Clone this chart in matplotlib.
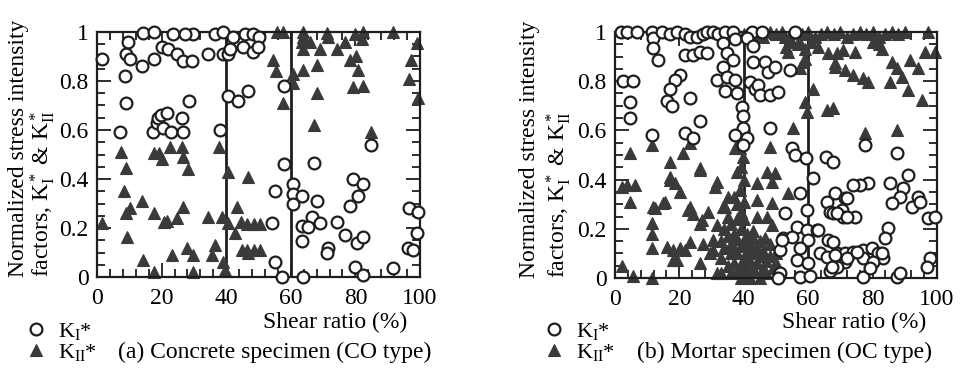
import matplotlib
matplotlib.use("Agg")
import matplotlib.pyplot as plt
from matplotlib import ticker

plt.rcParams['font.family'] = 'Liberation Serif'
plt.rcParams['mathtext.fontset'] = 'custom'
plt.rcParams['mathtext.rm'] = 'Liberation Serif'
plt.rcParams['mathtext.it'] = 'Liberation Serif:italic'

# ---- (a) concrete specimen, shear ratio (%) vs normalized SIF ----
a_k1_x = [1.5, 7, 9, 8.7, 9, 9.6, 10.2, 13.9, 14.3, 17.6, 17.6, 20, 22, 23.4, 24.7, 26.5, 29.3, 29.8,
          27.2, 34.5, 36.5, 39, 39, 40.6, 41.2, 42, 17.4, 18.5, 19, 19.8, 21.6, 20.5, 22.8, 26.3, 26.5,
          28.5, 38, 40.6, 43.7, 46.9, 45.8, 48.3, 50.2, 45.2, 48.3, 49.8, 57.9, 57.9, 67.2, 84.8, 55.1,
          60.7, 79.3, 82.4, 80.8, 60.7, 63.5, 60.7, 68, 78.3, 54.2, 66.6, 63.5, 65.3, 69, 74.3, 76.8,
          63.5, 71.5, 71.2, 80.5, 82.4, 96.6, 99.4, 99, 96.3, 97.8, 55.1, 80, 82.4, 91.6, 57.3, 63.8]
a_k1_y = [0.89, 0.59, 0.71, 0.82, 0.91, 0.96, 0.89, 0.86, 0.995, 1.0, 0.89, 0.94, 0.93, 0.99, 0.91, 0.88, 0.88, 0.99,
          0.99, 0.91, 0.99, 1.0, 0.91, 0.91, 0.93, 0.98, 0.59, 0.63, 0.65, 0.66, 0.67, 0.61, 0.59, 0.65, 0.59,
          0.72, 0.60, 0.74, 0.72, 0.76, 0.99, 0.99, 0.98, 0.94, 0.92, 0.94, 0.78, 0.46, 0.465, 0.54, 0.35,
          0.38, 0.40, 0.38, 0.33, 0.34, 0.33, 0.30, 0.31, 0.29, 0.22, 0.245, 0.21, 0.205, 0.22, 0.225, 0.17,
          0.147, 0.12, 0.10, 0.14, 0.165, 0.28, 0.265, 0.18, 0.12, 0.11, 0.06, 0.04, 0.01, 0.035, 0.0, 0.0]

a_k2_x = [1.5, 7.4, 9, 8.4, 9, 10.2, 9.3, 13.9, 14.3, 17.6, 17.6, 17.6, 19.3, 20.1, 20.8, 21.6, 22.6, 23.2,
          24.7, 26.3, 26.6, 26.6, 28.2, 27.8, 29.7, 29.7, 34.4, 35.6, 36.5, 37.8, 38.7, 39, 39.6, 40.6,
          40.6, 42.7, 43.3, 44.6, 44.9, 46.8, 46.8, 46.5, 48.5, 50.5, 46.5, 48.5, 50.5,
          55.7, 57.6, 54.5, 55.4, 57.6, 60.7, 60.7, 63.8, 63.8, 63.5, 63.8, 66, 69, 63.8, 68, 68, 67.2,
          71.2, 71.5, 74.3, 76.8, 79.9, 82.4, 82, 78.3, 80.2, 80.8, 79.3, 82.4, 84.8, 91.6, 99, 97.2, 96.6, 99.4]
a_k2_y = [0.22, 0.51, 0.445, 0.35, 0.26, 0.28, 0.165, 0.31, 0.07, 0.505, 0.26, 0.02, 0.505, 0.48, 0.225, 0.23, 0.53, 0.09,
          0.24, 0.53, 0.49, 0.285, 0.44, 0.12, 0.09, 0.02, 0.245, 0.09, 0.13, 0.53, 0.245, 0.06, 0.03, 0.43,
          0.22, 0.18, 0.285, 0.225, 0.11, 0.41, 0.10, 0.215, 0.215, 0.215, 0.11, 0.11, 0.11,
          1.0, 1.0, 0.886, 0.84, 0.71, 0.83, 0.79, 1.0, 0.98, 0.96, 0.93, 0.96, 0.93, 0.845, 0.865, 0.75, 0.62,
          0.995, 0.98, 0.93, 0.96, 0.99, 1.0, 0.97, 0.886, 0.90, 0.845, 0.775, 0.78, 0.59, 1.0, 0.955, 0.886, 0.81, 0.73]

# ---- (b) mortar specimen ----
b_k1_x = [1.9, 3.7, 6.8, 11.5, 11.8, 11.8, 13.4, 14.6, 17, 19.2, 21.7, 23.3, 21.7, 24.3, 25.4, 27.4, 28.5, 26.4,
          28.5, 30.5, 32, 2.6, 5.7, 4.6, 4.6, 11.5, 20.2, 18.6, 17.1, 16.1, 17.7, 23.3, 26.4, 21.7, 24.2, 31.7,
          34.2, 36.6, 42.5, 45.6, 33.5, 37.3, 41, 42.9, 34.8, 36.6, 33.5, 42.9, 46.6, 47.5, 49.7, 54.3, 34.8,
          37.3, 41.9, 43.5, 44.4, 34.2, 37.9, 45, 48.1, 50.6, 39.4, 39.8, 39.8, 37.3, 41, 39.8, 48.1, 55, 55.9,
          59.3, 65.5, 67.7, 61.5, 57.5, 52.8, 59.6, 65.8, 66.8, 56.5, 59.6, 62.7, 52.2, 55, 59.9, 66.1, 51.2,
          57.5, 63.7, 56.5, 59.9, 65.8, 51.2, 57.5, 60.5, 66.8, 69, 77.6, 87.6, 91, 85.4, 78.6, 76.1, 74, 89.4,
          68.3, 71.4, 88.5, 94.1, 86, 92.2, 94.7, 67.7, 70.5, 70.8, 74.5, 97.2, 99.4, 84.8, 83.9, 67.7, 69,
          71.4, 74, 77, 79.8, 81.7, 83.2, 71.4, 77, 80.1, 69, 77, 87.6, 97.8, 96.9, 88.5, 79.2, 72, 69, 72,
          63, 51.9, 68.3, 72, 75.2, 82.9, 67.4, 50.6, 56]
b_k1_y = [1.0, 1.0, 1.0, 1.0, 0.975, 0.935, 0.886, 1.0, 0.99, 1.0, 0.99, 0.98, 0.906, 0.906, 0.98, 0.99, 1.0, 0.92,
          0.915, 1.0, 0.99, 0.80, 0.80, 0.716, 0.65, 0.58, 0.825, 0.805, 0.77, 0.72, 0.70, 0.73, 0.64, 0.59, 0.57, 0.805,
          1.0, 1.0, 1.0, 1.0, 0.955, 0.97, 0.975, 0.945, 0.915, 0.886, 0.858, 0.878, 0.878, 0.837, 0.858, 0.845, 0.817,
          0.805, 0.797, 0.77, 0.785, 0.76, 0.75, 0.745, 0.745, 0.756, 0.695, 0.66, 0.61, 0.58, 0.57, 0.54, 0.61, 0.53, 0.50,
          0.488, 0.49, 0.47, 0.406, 0.345, 0.264, 0.276, 0.31, 0.27, 0.207, 0.195, 0.195, 0.163, 0.167, 0.154, 0.154, 0.114,
          0.122, 0.10, 0.073, 0.06, 0.085, 0.02, 0.005, 0.01, 0.03, 0.065, 0.54, 0.51, 0.42, 0.386, 0.386, 0.378, 0.378, 0.366,
          0.345, 0.325, 0.33, 0.33, 0.305, 0.29, 0.31, 0.264, 0.276, 0.248, 0.248, 0.244, 0.248, 0.203, 0.163, 0.146, 0.10,
          0.10, 0.106, 0.114, 0.122, 0.10, 0.08, 0.065, 0.08, 0.065, 0.045, 0.005, 0.005, 0.08, 0.045, 0.02, 0.04, 0.325, 0.264, 0.248,
          0.195, 0.154, 0.093, 0.08, 0.106, 0.10, 0.045, 0.0, 1.0]

b_k2_x = [4.6, 11.5, 23.3, 21.1, 17.1, 26.4, 17.1, 18.6, 20.2, 2.2, 3.7, 6.2, 4.6, 12.4, 15.5, 11.5, 11.5, 11.5,
          16.1, 18, 18, 21.7, 23.3, 22.7, 24.3, 26.4, 28.9, 31, 31.6, 26.4, 2.2, 5.7, 11.5, 27.4, 30.5, 29.5, 31.6,
          11.8, 17, 14.9, 23.3, 19.3, 20.2, 26.4, 27, 30.4, 31.6, 33.5,
          33, 33, 33, 34, 34, 35, 35, 35, 36, 36, 36, 36, 37, 37, 37, 38, 38, 38, 38, 38,
          39, 39, 39, 39, 39, 39, 39, 40, 40, 40, 40, 40, 40, 40, 41, 41, 41, 42, 42, 42, 43, 43, 43,
          44, 44, 45, 45, 45, 46, 46, 47, 47, 48, 48, 49, 50, 50, 51,
          40, 42, 44, 46, 48, 50, 52, 54, 56, 58, 60, 62, 64, 66, 68, 70, 72, 74, 76, 78, 80, 82, 84, 86, 88, 90,
          53, 55, 57, 59, 61, 63, 97.2,
          52.8, 54.3, 57.5, 53.7, 58.4, 57.5, 59, 61.5, 59, 59.6, 65.8, 67.7, 66.1, 68.3, 55.3, 48.1, 47.2, 49.7,
          48.8, 44.1, 53.7, 48.8, 44.1, 44.1, 47.2, 48.8, 42.9, 46.6, 38.8, 37.3, 37.9, 39.8, 38.8, 35, 37, 34.2,
          69, 70.8, 74.5, 68.3, 71.4, 74, 77, 78.6, 86, 87.6, 89.1, 85.4, 91.6, 94.1, 91, 95.3, 96.3, 99.4,
          77.6, 87.6, 80, 82, 83]
b_k2_y = [0.51, 0.54, 0.55, 0.51, 0.47, 0.447, 0.41, 0.386, 0.35, 0.37, 0.38, 0.38, 0.31, 0.285, 0.31, 0.225, 0.18, 0.12,
          0.126, 0.114, 0.073, 0.114, 0.146, 0.276, 0.26, 0.22, 0.27, 0.37, 0.215, 0.06, 0.05, 0.01, 0.0, 0.14, 0.155, 0.10, 0.02,
          0.29, 0.40, 0.305, 0.29, 0.073, 0.12, 0.44, 0.236, 0.114, 0.39, 0.29,
          0.02, 0.08, 0.15, 0.12, 0.20, 0.05, 0.17, 0.25, 0.02, 0.10, 0.14, 0.22, 0.06, 0.12, 0.18, 0.03, 0.10, 0.16, 0.24, 0.30,
          0.0, 0.05, 0.13, 0.20, 0.27, 0.45, 0.57, 0.02, 0.08, 0.15, 0.24, 0.31, 0.40, 0.62, 0.04, 0.11, 0.18, 0.0, 0.07, 0.14, 0.03, 0.10, 0.19,
          0.06, 0.12, 0.0, 0.09, 0.15, 0.04, 0.11, 0.07, 0.02, 0.09, 0.14, 0.04, 0.10, 0.06, 0.02,
          0.99, 1.0, 0.99, 0.98, 1.0, 0.99, 1.0, 0.98, 1.0, 0.99, 1.0, 0.98, 0.99, 1.0, 0.99, 1.0, 0.98, 0.99, 1.0, 0.99,
          1.0, 0.98, 0.99, 1.0, 0.99, 1.0,
          0.94, 0.96, 0.95, 0.93, 0.96, 0.94, 1.0,
          0.98, 0.97, 0.955, 0.92, 0.878, 0.855, 0.89, 0.77, 0.716, 0.675, 0.683, 0.69, 0.915, 0.874, 0.61, 0.533, 0.43, 0.427,
          0.39, 0.386, 0.345, 0.305, 0.317, 0.248, 0.248, 0.215, 0.163, 0.163, 0.53, 0.53, 0.43, 0.49, 0.358, 0.33, 0.33, 0.29,
          0.915, 0.927, 0.92, 0.858, 0.845, 0.825, 0.813, 0.797, 0.878, 0.855, 0.817, 0.797, 0.886, 0.855, 0.764, 0.724, 0.92, 0.92,
          0.59, 0.60, 0.96, 0.95, 0.93]

ink = '#1e1e1e'
tri = '#3a3a3a'

fig = plt.figure(figsize=(9.68, 3.69), dpi=100)
ax_a = fig.add_axes([0.1002, 0.2493, 0.3337, 0.664])
ax_b = fig.add_axes([0.6353, 0.2466, 0.3326, 0.6667])

panels = [(ax_a, a_k1_x, a_k1_y, a_k2_x, a_k2_y), (ax_b, b_k1_x, b_k1_y, b_k2_x, b_k2_y)]
for ax, k1x, k1y, k2x, k2y in panels:
    ax.axvline(40, color=ink, lw=2.0, zorder=1)
    ax.axvline(60, color=ink, lw=2.0, zorder=1)
    h1, = ax.plot(k1x, k1y, 'o', ms=8.5, mfc='white', mec=ink, mew=1.6, ls='none', clip_on=False, zorder=3,
                  label='K$_\\mathrm{I}$*')
    h2, = ax.plot(k2x, k2y, '^', ms=9, mfc=tri, mec=tri, mew=0.8, ls='none', clip_on=False, zorder=2,
                  label='K$_\\mathrm{II}$*')
    ax.set_xlim(0, 100)
    ax.set_ylim(0, 1)
    ax.xaxis.set_major_locator(ticker.MultipleLocator(20))
    ax.xaxis.set_minor_locator(ticker.MultipleLocator(4))
    ax.yaxis.set_major_locator(ticker.MultipleLocator(0.2))
    ax.yaxis.set_minor_locator(ticker.MultipleLocator(0.05))
    ax.yaxis.set_major_formatter(ticker.FormatStrFormatter('%g'))
    ax.tick_params(which='both', direction='in', top=True, right=True, color=ink, width=1.3)
    ax.tick_params(which='major', length=10)
    ax.tick_params(which='minor', length=6)
    ax.tick_params(axis='x', which='major', labelsize=17, pad=8)
    ax.tick_params(axis='y', which='major', labelsize=17, pad=6)
    for s in ax.spines.values():
        s.set_linewidth(1.6)
        s.set_color(ink)
    ax.legend(handles=[h1, h2], loc='upper left', frameon=False, fontsize=16,
              bbox_to_anchor=(ax.get_position().x0 - 0.072, 0.13), bbox_transform=fig.transFigure,
              borderpad=0, handlelength=0.8, handletextpad=0.6, labelspacing=0.0, borderaxespad=0)

fs = 17
line2 = 'factors, K$_\\mathrm{I}^*$ & K$_\\mathrm{II}^*$'
fig.text(0.0195, 0.249, 'Normalized stress intensity', rotation=90, ha='center', va='bottom', fontsize=fs)
fig.text(0.0444, 0.249, line2, rotation=90, ha='center', va='bottom', fontsize=fs)
fig.text(0.5470, 0.247, 'Normalized stress intensity', rotation=90, ha='center', va='bottom', fontsize=fs)
fig.text(0.5775, 0.247, line2, rotation=90, ha='center', va='bottom', fontsize=fs)

fig.text(0.346, 0.125, 'Shear ratio (%)', ha='center', va='center', fontsize=fs)
fig.text(0.882, 0.125, 'Shear ratio (%)', ha='center', va='center', fontsize=fs)
fig.text(0.122, 0.046, '(a) Concrete specimen (CO type)', ha='left', va='center', fontsize=fs)
fig.text(0.658, 0.046, '(b) Mortar specimen (OC type)', ha='left', va='center', fontsize=fs)

fig.savefig("out.png", dpi=100)
